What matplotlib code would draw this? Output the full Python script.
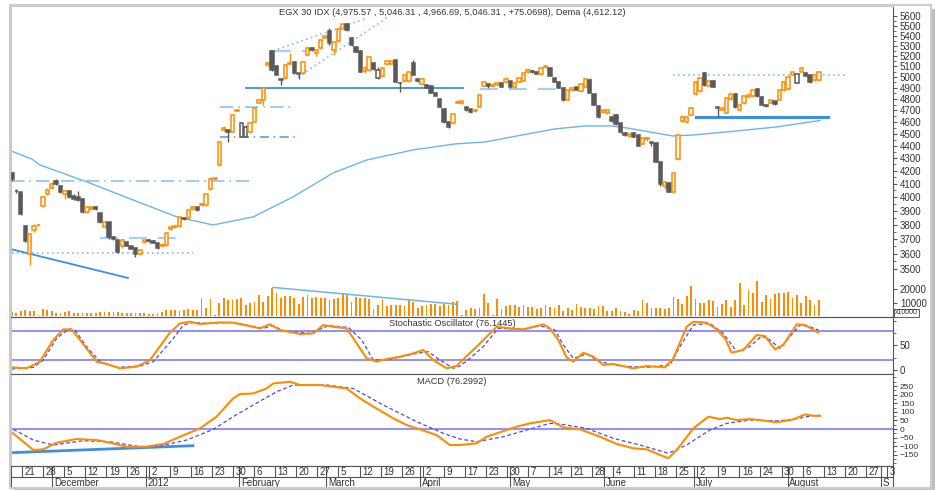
import numpy as np
import matplotlib
matplotlib.use("Agg")
import matplotlib.pyplot as plt
from matplotlib.patches import Rectangle
from matplotlib.ticker import FixedLocator, NullFormatter

plt.rcParams['font.family'] = ['Liberation Sans', 'DejaVu Sans']

# daily candles, EGX 30
open_ = [4180, 4048, 4035, 3789, 3598, 3760, 3795, 3932, 4020, 4065,
         4120, 4085, 4020, 4042, 4008, 4000, 3983, 3888, 3912, 3925,
         3880, 3782, 3817, 3713, 3690, 3650, 3680, 3650, 3640, 3598,
         3678, 3692, 3684, 3670, 3655, 3660, 3770, 3782, 3789, 3850,
         3845, 3910, 3925, 3940, 3940, 4057, 4140, 4245, 4530, 4530,
         4515, 4695, 4476, 4476, 4510, 4600, 4768, 4793, 5110, 5250,
         5100, 4985, 4990, 5125, 5140, 5035, 5035, 5210, 5277, 5225,
         5277, 5380, 5445, 5258, 5346, 5470, 5515, 5380, 5290, 5250,
         5055, 5065, 5133, 4995, 5010, 5120, 5125, 5160, 4945, 4960,
         4960, 5130, 4985, 4935, 4925, 4920, 4855, 4800, 4715, 4600,
         4593, 4765, 4760, 4725, 4710, 4690, 4732, 4920, 4938, 4915,
         4930, 4945, 4950, 4960, 4905, 4958, 4965, 5045, 5055, 5048,
         5025, 5090, 5080, 4990, 4955, 4900, 4795, 4880, 4905, 4870,
         4910, 4975, 4845, 4740, 4685, 4676, 4645, 4660, 4590, 4505,
         4478, 4505, 4490, 4418, 4455, 4428, 4425, 4273, 4080, 4105,
         4040, 4290, 4610, 4600, 4660, 4840, 4870, 5040, 4920, 4965,
         4725, 4705, 4680, 4800, 4840, 4700, 4760, 4820, 4825, 4890,
         4820, 4748, 4768, 4780, 4795, 4880, 4890, 5020, 4945, 5050,
         5040, 5015, 4972, 4975.57]
high = [4190, 4058, 4040, 3795, 3740, 3803, 3805, 4005, 4065, 4110,
        4135, 4090, 4045, 4055, 4020, 4045, 3990, 3932, 3930, 3932,
        3885, 3822, 3820, 3720, 3695, 3700, 3688, 3655, 3645, 3630,
        3695, 3700, 3690, 3675, 3670, 3750, 3790, 3795, 3855, 3858,
        3915, 3935, 3930, 3958, 4025, 4150, 4150, 4435, 4565, 4535,
        4668, 4715, 4600, 4570, 4600, 4725, 4800, 4905, 5140, 5260,
        5110, 4990, 5125, 5230, 5150, 5040, 5150, 5285, 5285, 5262,
        5370, 5405, 5480, 5345, 5480, 5525, 5530, 5390, 5295, 5262,
        5100, 5195, 5145, 5090, 5090, 5165, 5160, 5165, 4950, 5025,
        5055, 5160, 4990, 4995, 4935, 4930, 4862, 4805, 4720, 4610,
        4680, 4790, 4782, 4730, 4718, 4715, 4845, 4965, 4945, 4940,
        4955, 4950, 5000, 4965, 4950, 4995, 5045, 5075, 5062, 5055,
        5090, 5105, 5090, 4995, 4960, 4905, 4890, 4905, 4912, 4945,
        4990, 4990, 4850, 4745, 4715, 4705, 4650, 4665, 4595, 4512,
        4505, 4510, 4495, 4470, 4475, 4432, 4430, 4280, 4120, 4110,
        4185, 4495, 4660, 4645, 4725, 4960, 5000, 5045, 4975, 4970,
        4730, 4730, 4820, 4850, 4845, 4755, 4830, 4845, 4885, 4895,
        4825, 4752, 4795, 4785, 4885, 4960, 5005, 5050, 5035, 5090,
        5050, 5020, 5030, 5046.31]
low = [4125, 4030, 3868, 3680, 3526, 3750, 3788, 3925, 4015, 4060,
       4090, 4030, 3983, 3995, 3980, 3970, 3880, 3880, 3905, 3905,
       3810, 3775, 3700, 3690, 3605, 3640, 3650, 3630, 3580, 3590,
       3675, 3680, 3670, 3635, 3650, 3655, 3765, 3778, 3785, 3835,
       3840, 3905, 3900, 3935, 3935, 4050, 4135, 4240, 4525, 4430,
       4510, 4690, 4470, 4470, 4505, 4595, 4765, 4749, 5100, 5060,
       5015, 4928, 4985, 5118, 5030, 4985, 5030, 5205, 5250, 5200,
       5270, 5375, 5310, 5209, 5340, 5465, 5450, 5300, 5235, 5045,
       5040, 5060, 5070, 4985, 5000, 5110, 5120, 4950, 4865, 4955,
       4955, 5015, 4950, 4925, 4895, 4850, 4825, 4725, 4590, 4550,
       4585, 4760, 4755, 4690, 4680, 4685, 4728, 4915, 4895, 4905,
       4925, 4905, 4945, 4900, 4900, 4950, 4960, 5040, 5040, 5025,
       5020, 5085, 5005, 4950, 4895, 4785, 4790, 4875, 4878, 4865,
       4905, 4850, 4745, 4635, 4680, 4670, 4600, 4570, 4505, 4480,
       4470, 4470, 4395, 4412, 4440, 4395, 4270, 4085, 4060, 4035,
       4030, 4285, 4600, 4590, 4655, 4835, 4865, 4920, 4915, 4905,
       4640, 4700, 4675, 4795, 4720, 4695, 4755, 4815, 4820, 4820,
       4745, 4728, 4765, 4750, 4790, 4875, 4885, 5015, 4940, 5045,
       5005, 4940, 4965, 4966.69]
close = [4133, 4042, 3874, 3685, 3733, 3789, 3800, 4000, 4050, 4102,
         4095, 4040, 4042, 4000, 3985, 3975, 3888, 3924, 3926, 3910,
         3817, 3818, 3713, 3700, 3612, 3690, 3655, 3635, 3598, 3625,
         3690, 3684, 3675, 3640, 3662, 3745, 3782, 3790, 3852, 3840,
         3905, 3925, 3905, 3952, 4020, 4140, 4145, 4430, 4545, 4515,
         4662, 4705, 4593, 4560, 4593, 4720, 4790, 4900, 5130, 5067,
         5020, 4975, 5115, 5130, 5040, 5028, 5140, 5277, 5255, 5258,
         5356, 5395, 5327, 5336, 5470, 5515, 5456, 5310, 5240, 5050,
         5085, 5185, 5076, 5070, 5080, 5150, 5155, 4955, 4940, 5020,
         5050, 5020, 4960, 4985, 4900, 4857, 4830, 4730, 4595, 4558,
         4670, 4775, 4778, 4700, 4688, 4705, 4838, 4955, 4920, 4930,
         4948, 4912, 4985, 4905, 4945, 4990, 5040, 5068, 5045, 5030,
         5085, 5100, 5012, 4955, 4900, 4795, 4880, 4895, 4882, 4935,
         4982, 4855, 4750, 4645, 4700, 4702, 4605, 4578, 4510, 4485,
         4500, 4476, 4400, 4465, 4468, 4420, 4273, 4095, 4110, 4040,
         4180, 4490, 4640, 4642, 4718, 4955, 4990, 4930, 4965, 4912,
         4718, 4722, 4810, 4840, 4725, 4750, 4828, 4838, 4880, 4825,
         4750, 4735, 4790, 4755, 4880, 4955, 5000, 5045, 5028, 5080,
         5010, 4950, 5020, 5046.31]
volume = [3210, 2470, 3700, 4200, 3950, 3700, 500, 5430, 4450, 3950,
          2470, 2470, 2960, 3700, 1980, 2470, 2220, 1980, 1980, 2470,
          2720, 2720, 2720, 2720, 2720, 2220, 2220, 2220, 2470, 2220,
          1980, 1730, 1730, 2220, 2720, 4200, 4200, 4200, 3460, 4200,
          4940, 4450, 4200, 13090, 6180, 12350, 500, 9880, 13090, 11600,
          11860, 12350, 13090, 8150, 9880, 10620, 15300, 10620, 14820, 20500,
          16800, 13600, 15070, 15070, 13090, 9140, 14330, 15300, 13600, 14330,
          13090, 13090, 11860, 12350, 13600, 16060, 15300, 10370, 14330, 13600,
          13090, 12840, 5430, 8400, 12350, 7410, 8150, 8150, 8150, 7410,
          12350, 10620, 6180, 7410, 8150, 8650, 9140, 7410, 8650, 8400,
          10370, 10870, 500, 4450, 6180, 5430, 6180, 16060, 9880, 500,
          12840, 5430, 7410, 8150, 8150, 6670, 7900, 6670, 6670, 5430,
          5930, 7900, 6670, 6180, 7900, 3460, 6180, 4450, 8650, 6670,
          5930, 6180, 4940, 7410, 7410, 3700, 3700, 6180, 3700, 2960,
          1730, 4450, 3700, 11600, 9390, 6180, 6180, 6180, 5430, 6180,
          14080, 12840, 8650, 14820, 22230, 12350, 9880, 9390, 11600, 11120,
          6670, 8650, 11600, 6670, 11600, 24700, 7900, 19020, 16800, 25940,
          10620, 15560, 12840, 16060, 17290, 17290, 17780, 13090, 15310, 9880,
          14820, 11860, 8150, 11600]

# x positions below are in weeks counted from the "21" (Nov 21) tick
dema_x = [-0.52, 0.47, 0.85, 3.08, 5.26, 7.35, 9.05, 10.95, 12.84, 14.74, 16.35, 18.53,
          20.52, 21.94, 23.70, 25.26, 26.68, 27.96, 28.67, 30.85, 31.80, 33.41, 35.78, 37.82]
dema = [4358, 4293, 4246, 4114, 3979, 3855, 3798, 3855, 4001, 4183, 4286, 4366,
        4415, 4431, 4489, 4540, 4565, 4565, 4548, 4481, 4489, 4515, 4557, 4612]

stoch_k_x = [-0.49, 0.22, 0.85, 1.48, 1.96, 2.35, 2.75, 3.54, 4.01, 4.64, 5.44, 6.07,
             7.01, 7.49, 7.96, 8.44, 9.38, 10.01, 11.28, 11.75, 12.23, 13.18, 13.81, 14.28,
             14.75, 15.39, 15.86, 16.34, 16.81, 17.28, 17.91, 18.55, 19.02, 19.49, 20.13, 20.6,
             21.07, 21.55, 22.02, 22.5, 23.13, 23.76, 24.39, 24.71, 25.02, 25.42, 25.81, 26.13,
             26.6, 27.08, 27.55, 28.02, 28.97, 29.61, 30.47, 30.87, 31.5, 31.82, 32.45, 32.92,
             33.32, 33.63, 34.19, 34.82, 35.21, 35.69, 36.08, 36.72, 37.11, 37.74]
stoch_k = [5, 3, 16.6, 61, 82.7, 82.7, 61, 16.6, 12, 3, 6.4, 20,
           76, 95, 98.4, 93.6, 97, 96.4, 84.8, 93, 81.4, 73.2, 74.5, 91.6,
           88, 84.8, 54, 23.4, 16.6, 22, 26.8, 33.6, 40.5, 20, 3, 8,
           28, 47.3, 67.7, 88, 84.8, 82.7, 89.5, 93, 84.8, 61, 25.5, 16.6,
           35, 26.8, 9.8, 12, 3, 7.7, 5, 23.4, 88, 98.4, 96.4, 82.7,
           64.3, 35, 40.5, 71, 69, 41.8, 50.7, 93, 91.6, 76.14]
stoch_d_x = [-0.49, 0.54, 1.01, 1.64, 2.2, 2.51, 3.06, 3.7, 4.49, 5.59, 6.22, 7.17,
             7.65, 8.12, 8.75, 10.01, 11.44, 11.91, 12.38, 13.65, 14.52, 15.47, 16.1, 16.65,
             17.28, 18.7, 19.26, 19.81, 20.44, 20.76, 21.23, 21.86, 22.57, 23.76, 24.55, 25.26,
             25.66, 26.13, 26.76, 27.39, 28.34, 29.61, 30.71, 31.18, 31.82, 32.6, 33.24, 33.87,
             34.5, 35.06, 35.45, 35.92, 36.87, 37.34, 37.74]
stoch_d = [1.6, 5, 20, 64, 83.4, 81.4, 47.3, 16.6, 5, 7.7, 16.6, 64,
           91.6, 97, 95, 97, 84.8, 90.2, 80, 74.5, 90.2, 86.8, 61, 20,
           20, 33.6, 37, 20, 3, 7.7, 23.4, 47.3, 84.8, 82.7, 90, 81.4,
           50.7, 23.4, 32.2, 16.6, 7.7, 5, 9.8, 47.3, 91.6, 95, 74.5, 37,
           47.3, 69, 61, 43.9, 91.6, 88, 81.4]

macd_x = [-0.52, 0.06, 0.54, 1.01, 1.64, 2.59, 3.54, 4.17, 4.96, 5.91, 6.7, 7.49,
          8.44, 9.22, 10.01, 10.33, 10.96, 11.59, 11.91, 12.7, 13.18, 14.12, 15.39, 16.02,
          16.65, 17.6, 18.23, 18.86, 19.65, 20.28, 20.76, 21.55, 22.02, 22.97, 23.44, 24.08,
          25.02, 25.66, 26.45, 27.39, 28.18, 28.97, 29.61, 30.24, 30.63, 31.03, 31.82, 32.53,
          33.08, 33.4, 33.87, 34.5, 34.98, 35.77, 36.56, 37.11, 37.5, 37.82]
macd = [-15.5, -73.6, -122, -118, -79.5, -58, -64, -79.5, -102.7, -102.7, -87, -44.6,
        3.9, 71.7, 178, 203, 207, 236, 265, 275, 256, 256, 236, 178,
        130, 62, 23, -2, -35, -93, -93, -83, -44.6, -5.8, 13.6, 33,
        52, 9.7, -2, -44.6, -87, -112, -118, -151, -170, -122, 3.9, 71.7,
        58, 66, 52, 58, 52, 38.8, 56, 85, 77.5, 76.3]
signal_x = [-0.41, 0.54, 1.49, 2.91, 4.17, 5.59, 6.54, 7.8, 9.07, 10.01, 10.96, 12.07,
            12.86, 14.44, 15.7, 17.12, 18.7, 19.97, 20.76, 21.55, 22.81, 23.92, 25.02, 25.5,
            26.76, 28.02, 29.29, 30.63, 31.5, 32.6, 33.4, 34.5, 35.77, 36.56, 37.19, 37.82]
signal = [-2, -64, -93, -68, -74, -103, -99, -64, -2, 72, 140, 217,
          256, 256, 236, 140, 43, -25, -58, -74, -44.6, -5.8, 33, 29,
          3.9, -54, -93, -141, -93, -5.8, 33, 52, 48, 56, 72, 81]

week_labels = ['21', '28', '5', '12', '19', '26', '2', '9', '16', '23', '30', '6', '13', '20',
               '27', '5', '12', '19', '26', '2', '9', '17', '23', '30', '7', '14', '21', '28',
               '4', '11', '18', '25', '2', '9', '16', '24', '30', '6', '13', '20', '27', '3']
month_labels = ['December', '2012', 'February', 'March', 'April', 'May', 'June', 'July',
                'August', 'S']
month_pos = [1.43, 5.86, 10.29, 14.43, 18.86, 23.14, 27.57, 31.86, 36.29, 40.71]

# drawn studies: (x start, x end, value start, value end, style)
price_lines = [
    (-0.52, 10.90, 4118, 4118, 'dashdot'),
    (-0.47, 8.10, 3606, 3606, 'dotted'),
    (3.70, 7.73, 3707, 3707, 'dashed'),
    (-0.52, 5.02, 3631, 3442, 'solid'),
    (9.38, 12.94, 4729, 4729, 'dashdot'),
    (9.38, 12.94, 4473, 4473, 'dashdot_dark'),
    (10.62, 20.90, 4898, 4898, 'solid'),
    (11.90, 16.35, 5248, 5579, 'dotted'),
    (13.08, 17.35, 5000, 5589, 'dotted'),
    (11.90, 13.55, 5248, 5248, 'dashed'),
    (21.70, 25.50, 4890, 4890, 'dashed'),
    (30.85, 39.15, 5020, 5020, 'dotted'),
    (31.94, 38.20, 4639, 4639, 'solid_thick'),
]
volume_line = (11.90, 20.66, 21200, 8700)
macd_line = (-0.52, 8.10, -137.6, -97)

styles = {
    'dashdot': dict(color='#8cc3f0', ls=(0, (8, 3, 1, 3)), lw=1.2),
    'dashdot_dark': dict(color='#4f97e6', ls=(0, (6, 3, 1, 3)), lw=1.1),
    'dotted': dict(color='#80bcf0', ls=(0, (1, 2)), lw=1.2),
    'dashed': dict(color='#a6cff2', ls=(0, (8, 5)), lw=1.6),
    'solid': dict(color='#3c8ee6', ls='-', lw=1.3),
    'solid_thick': dict(color='#3c8ee6', ls='-', lw=2.2),
}

ORANGE = '#ff8c00'
GRAY = '#5a5a5a'
TXT = '#333333'
W, H = 938, 490

fig = plt.figure(figsize=(W / 100, H / 100), dpi=100)


def box(x0, y0, x1, y1):
    return [x0 / W, 1 - y1 / H, (x1 - x0) / W, (y1 - y0) / H]


def fig_rect(x0, y0, x1, y1, **kw):
    return Rectangle((x0 / W, 1 - y1 / H), (x1 - x0) / W, (y1 - y0) / H,
                     transform=fig.transFigure, **kw)


def right_ticks(a, size=7):
    a.yaxis.tick_right()
    a.tick_params(axis='y', which='major', direction='out', length=3, width=0.8,
                  color='#555555', labelsize=size, labelcolor=TXT, pad=2)
    a.tick_params(axis='y', which='minor', direction='out', length=2, width=0.6,
                  color='#555555')


# frame with a soft shadow
fig.patches.append(fig_rect(14, 488, 935, 492, color='#bdbdbd', lw=0))
fig.patches.append(fig_rect(931, 9, 935, 492, color='#bdbdbd', lw=0))
fig.patches.append(fig_rect(10, 5, 931, 488, fill=False, ec='#cccccc', lw=1.5))

ax = fig.add_axes(box(11, 6, 893, 317))
ax_st = fig.add_axes(box(11, 317, 893, 374), sharex=ax)
ax_md = fig.add_axes(box(11, 374, 893, 466), sharex=ax)
ax_dt = fig.add_axes(box(11, 466, 893, 488), sharex=ax)
ax.set_xlim(-0.52, 41.28)

for a in (ax, ax_st, ax_md, ax_dt):
    a.tick_params(axis='x', bottom=False, labelbottom=False)
    a.spines['left'].set_color('#c8c8c8')
    for s in ('right', 'top', 'bottom'):
        a.spines[s].set_color('#555555')
ax.spines['top'].set_color('#cccccc')

# ---- price panel ----
o, h, l, c = map(np.array, (open_, high, low, close))
x_first, step = -0.474, 0.209
xs = x_first + step * np.arange(len(c))
prev = np.r_[o[0], c[:-1]]
cols = np.where(c >= prev, ORANGE, GRAY)
faces = np.where(c > o, 'white', cols)

# volume shares the price panel (drawn underneath the candles)
ax_v = ax.twinx()
ax.set_zorder(ax_v.get_zorder() + 1)
ax.patch.set_visible(False)
ax_v.set_ylim(-660, 229300)
ax_v.bar(xs, volume, width=0.085, color=ORANGE)
ax_v.plot(volume_line[:2], volume_line[2:], color='#6cb4ee', lw=1.1)
ax_v.set_yticks([10000, 20000])
ax_v.set_yticklabels(['10000', '20000'])
right_ticks(ax_v)
for s in ax_v.spines.values():
    s.set_visible(False)

ax.set_yscale('log')
ax.set_ylim(3201, 5705)
ax.vlines(xs, l, h, colors=cols, lw=1.0, zorder=3)
ax.bar(xs, np.abs(c - o), bottom=np.minimum(o, c), width=0.16, color=faces,
       edgecolor=cols, linewidth=1.1, zorder=4)
ax.plot(dema_x, dema, color='#6cb4ee', lw=1.0, zorder=2)
for x0, x1, y0, y1, st in price_lines:
    ax.plot([x0, x1], [y0, y1], zorder=2, **styles[st])

price_ticks = list(range(3500, 5700, 100))
ax.yaxis.set_major_locator(FixedLocator(price_ticks))
ax.set_yticklabels([str(t) for t in price_ticks])
ax.yaxis.set_minor_locator(FixedLocator([t + 50 for t in price_ticks[:-1]]))
ax.yaxis.set_minor_formatter(NullFormatter())
right_ticks(ax)
ax.text(0.5, 1 - 6 / 311, 'EGX 30 IDX (4,975.57 , 5,046.31 , 4,966.69, 5,046.31 , +75.0698), '
        'Dema (4,612.12)', transform=ax.transAxes, ha='center', va='center',
        fontsize=6.7, color=TXT)
fig.text(895 / W, 1 - 313 / H, 'x10000', fontsize=5, color=TXT, va='center',
         bbox=dict(boxstyle='square,pad=0.1', fc='white', ec='#444444', lw=0.6))

# ---- stochastic ----
ax_st.set_ylim(-8.6, 108)
ax_st.axhline(80, color='#7b7bff', lw=1.2)
ax_st.axhline(20, color='#7b7bff', lw=1.2)
ax_st.plot(stoch_d_x, stoch_d, color='#4a4ae8', lw=0.9, ls=(0, (3, 2)))
ax_st.plot(stoch_k_x, stoch_k, color=ORANGE, lw=1.5)
ax_st.set_yticks([0, 50])
ax_st.yaxis.set_minor_locator(FixedLocator([25, 75, 100]))
right_ticks(ax_st)
ax_st.text(0.5, 1 - 6 / 57, 'Stochastic Oscillator (76.1445)', transform=ax_st.transAxes,
           ha='center', va='center', fontsize=6.7, color=TXT)

# ---- MACD ----
ax_md.set_ylim(-215, 320)
ax_md.axhline(0, color='#7b7bff', lw=1.2)
ax_md.plot(macd_line[:2], macd_line[2:], color='#3c8ee6', lw=2)
ax_md.plot(signal_x, signal, color='#4a4ae8', lw=0.9, ls=(0, (3, 2)))
ax_md.plot(macd_x, macd, color=ORANGE, lw=1.5)
ax_md.set_yticks(list(range(-150, 251, 50)))
ax_md.yaxis.set_minor_locator(FixedLocator(list(range(-200, 301, 25))))
right_ticks(ax_md, size=6)
ax_md.text(0.5, 1 - 7 / 92, 'MACD (76.2992)', transform=ax_md.transAxes,
           ha='center', va='center', fontsize=6.7, color=TXT)

# ---- date rows ----
ax_dt.set_ylim(0, 2)
ax_dt.set_yticks([])
ax_dt.spines['left'].set_color('#555555')
ax_dt.axhline(1, color='#555555', lw=0.8)
week_pos = np.arange(len(week_labels))
ax_dt.vlines(week_pos, 1, 2, color='#555555', lw=0.8)
ax_dt.vlines(month_pos, 0, 2, color='#555555', lw=0.8)
for p, t in zip(week_pos, week_labels):
    ax_dt.text(p + 0.12, 1.5, t, ha='left', va='center', fontsize=7, color=TXT)
for p, t in zip(month_pos, month_labels):
    ax_dt.text(p + 0.08, 0.5, t, ha='left', va='center', fontsize=7, color=TXT)

fig.savefig('out.png', dpi=100)
